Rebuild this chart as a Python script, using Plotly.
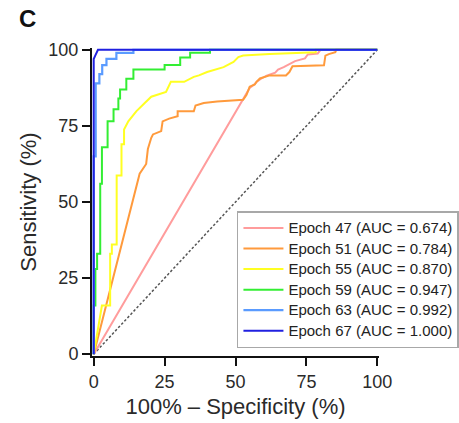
import plotly.graph_objects as go

# ROC curves per training epoch: x = 100% - specificity, y = sensitivity (both in %)
epoch47_x = [0, 52.5, 53, 54, 55, 56.5, 57.5, 59, 61, 64, 65, 67, 69, 71, 74.5, 75.5, 79, 80, 100]
epoch47_y = [0, 83.3, 84.5, 86, 87.5, 88.5, 89.5, 90.5, 91.5, 92.5, 93.5, 94.3, 95.3, 96.3, 97.2, 98.5, 98.8, 100, 100]

epoch51_x = [0, 16.2, 18.5, 19.1, 20.3, 20.9, 23.8, 24.3, 26.6, 29.6, 29.6, 35.3, 35.9, 38.8, 43.5, 52.7,
             53.9, 55.0, 56.8, 57.4, 58.6, 60.9, 62.0, 67.8, 69.0, 70.1, 81.2, 81.7, 82.9, 85.2, 85.5, 100]
epoch51_y = [0, 59.3, 62.5, 67.4, 71.1, 72.2, 73.3, 76.5, 77.4, 78.2, 79.8, 79.8, 81.7, 82.5, 83.0, 83.6,
             85.2, 87.9, 88.6, 89.5, 90.6, 91.2, 91.6, 91.6, 92.7, 94.6, 94.9, 98.1, 98.6, 99.2, 100, 100]

epoch55_x = [0, 2.9, 5.8, 5.8, 6.4, 6.4, 8.1, 8.1, 9.8, 9.8, 10.7, 10.7, 12.2, 15.0, 18.0, 20.3, 25.5,
             27.2, 31.9, 35.3, 37.1, 40.0, 45.8, 49.3, 51.0, 52.7, 62.0, 78.3, 78.3, 100]
epoch55_y = [0, 16, 16, 33, 33, 36, 36, 58.7, 58.7, 69, 69, 73.8, 76.5, 79.8, 82.5, 84.6, 86.2,
             89.5, 89.5, 91.1, 91.6, 92.7, 94.3, 96.0, 97.6, 98.1, 98.6, 99.2, 100, 100]

epoch59_x = [0, 0, 0.6, 0.6, 1.2, 1.2, 2.3, 2.3, 2.9, 2.9, 4.9, 4.9, 7.0, 7.0, 8.7, 8.7, 9.3, 9.3,
             11.5, 11.5, 14.0, 14.0, 25.0, 25.0, 30.5, 30.5, 34.0, 34.0, 41.0, 41.0, 100]
epoch59_y = [0, 16, 16, 28, 28, 33, 33, 56, 56, 68, 68, 76.5, 76.5, 80.5, 80.5, 84, 84, 87,
             87, 90.5, 90.5, 93.5, 93.5, 95, 95, 97.5, 97.5, 99, 99, 100, 100]

epoch63_x = [0, 0, 0.7, 0.7, 2.0, 2.0, 3.0, 3.0, 4.5, 4.5, 8.0, 8.0, 14.0, 14.0, 100]
epoch63_y = [0, 65, 65, 89, 89, 92, 92, 95, 95, 97, 97, 99, 99, 100, 100]

epoch67_x = [0, 0, 0.5, 1.0, 1.5, 100]
epoch67_y = [0, 97, 98, 99, 100, 100]

ref_x = [0, 100]
ref_y = [0, 100]

labels = ["Epoch 47 (AUC = 0.674)", "Epoch 51 (AUC = 0.784)", "Epoch 55 (AUC = 0.870)",
          "Epoch 59 (AUC = 0.947)", "Epoch 63 (AUC = 0.992)", "Epoch 67 (AUC = 1.000)"]
colors = ["#ff9c9c", "#ff9a3c", "#ffff22", "#33ee33", "#5a9bff", "#2020e0"]
widths = [2, 2, 2, 2, 2.2, 2]

tick_vals = [0, 25, 50, 75, 100]
tick_text = ["0", "25", "50", "75", "100"]

curves = [(epoch47_x, epoch47_y), (epoch51_x, epoch51_y), (epoch55_x, epoch55_y),
          (epoch59_x, epoch59_y), (epoch63_x, epoch63_y), (epoch67_x, epoch67_y)]

FONT = "Arial, Liberation Sans, sans-serif"

fig = go.Figure()

# chance line
fig.add_trace(go.Scatter(x=ref_x, y=ref_y, mode="lines", showlegend=False, hoverinfo="skip",
                         line=dict(color="#555", width=1.5, dash="2.5px,2px")))

for (xs, ys), name, c, w in zip(curves, labels, colors, widths):
    # legend rows are spaced by the legend font size; the label itself is set a bit larger
    fig.add_trace(go.Scatter(x=xs, y=ys, mode="lines",
                             name='<span style="font-size:15px">%s</span>' % name,
                             line=dict(color=c, width=w)))

axis_common = dict(
    range=[-0.6, 100.6], tickvals=tick_vals, ticktext=tick_text,
    showline=True, linecolor="#111", linewidth=2,
    ticks="outside", ticklen=8, tickwidth=2.2, tickcolor="#111",
    showgrid=False, zeroline=False,
    tickfont=dict(family=FONT, size=18, color="#2a2a2a"),
)

fig.update_xaxes(**axis_common,
                 title=dict(text="100% \u2013 Specificity (%)", standoff=8,
                            font=dict(family=FONT, size=22, color="#2a2a2a")))
fig.update_yaxes(**axis_common,
                 title=dict(text="Sensitivity (%)", standoff=6,
                            font=dict(family=FONT, size=22, color="#2a2a2a")))

fig.add_annotation(text="<b>C</b>", xref="paper", yref="paper", x=-0.226, y=1.097,
                   xanchor="center", yanchor="middle", showarrow=False,
                   font=dict(family=FONT, size=24, color="#111"))

fig.update_layout(
    width=459, height=423,
    margin=dict(l=92, r=80, t=48, b=67, autoexpand=False),
    paper_bgcolor="white", plot_bgcolor="white",
    legend=dict(x=0.505, y=0.47, xanchor="left", yanchor="top",
                bordercolor="#a8a8a8", borderwidth=1.5, bgcolor="white",
                font=dict(family=FONT, size=13.5, color="#222"),
                tracegroupgap=0, itemwidth=40),
    showlegend=True,
)

fig.write_html("out.html")
